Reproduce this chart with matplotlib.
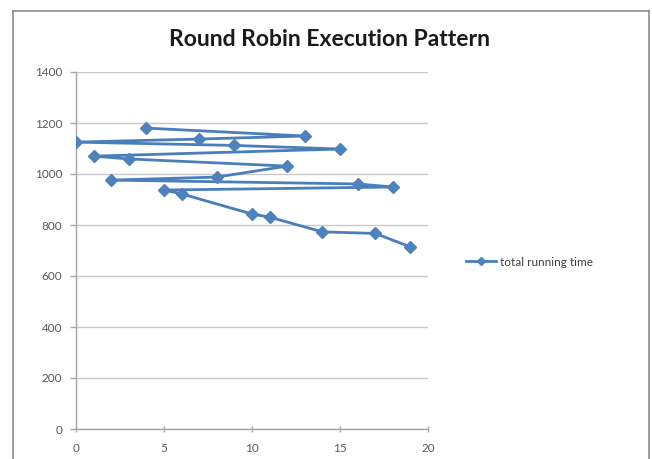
import matplotlib
matplotlib.use("Agg")
import matplotlib.pyplot as plt
from matplotlib.lines import Line2D

plt.rcParams['font.family'] = ['Lato', 'DejaVu Sans']

# Process index (x) in the order the scheduler visited them, with total running time (y)
process_ids = [4, 13, 7, 0, 9, 15, 1, 3, 12, 8, 2, 16, 18, 5, 6, 10, 11, 14, 17, 19]
running_time = [1180, 1149, 1137, 1125, 1112, 1098, 1070, 1059, 1031, 988,
                976, 961, 949, 937, 922, 843, 831, 773, 767, 714]
series_label = "total running time"
title = "Round Robin Execution Pattern"
x_ticks = [0, 5, 10, 15, 20]
y_ticks = [0, 200, 400, 600, 800, 1000, 1200, 1400]

W, H = 652, 459
fig = plt.figure(figsize=(W / 100, H / 100), dpi=100)
fig.patch.set_facecolor("white")

# chart-area frame
frame_col = "#8c8c8c"
for xs, ys in [((13, 13), (0, 448)), ((13, 649), (448, 448)), ((649, 649), (0, 448))]:
    fig.add_artist(Line2D([x / W for x in xs], [y / H for y in ys],
                          color=frame_col, lw=1.2, transform=fig.transFigure))

ax = fig.add_axes([76 / W, 1 - 429 / H, (428 - 76) / W, (429 - 72) / H])
line_col = "#4a7ebb"
ax.plot(process_ids, running_time, color=line_col, lw=2.0, marker="D",
        markersize=6.5, markerfacecolor="#4f81bd", markeredgecolor="#4f81bd",
        label=series_label, zorder=3)

ax.set_xlim(0, 20)
ax.set_ylim(0, 1400)
ax.set_xticks(x_ticks)
ax.set_yticks(y_ticks)
ax.yaxis.grid(True, color="#c8c8c8", lw=1.0)
ax.set_axisbelow(True)
for side in ("top", "right"):
    ax.spines[side].set_visible(False)
for side in ("left", "bottom"):
    ax.spines[side].set_color("#a6a6a6")
    ax.spines[side].set_linewidth(1.0)
ax.tick_params(axis="both", colors="#a6a6a6", length=4, width=1,
               labelcolor="#595959", labelsize=8.5)
ax.tick_params(axis="y", pad=6)
ax.tick_params(axis="x", direction="inout", pad=8)

fig.text(0.505, 1 - 40 / H, title, ha="center", va="center",
         fontsize=16.5, fontweight="bold", color="#1a1a1a")

handles, labels = ax.get_legend_handles_labels()
fig.legend(handles, labels, loc="center left",
           bbox_to_anchor=(455 / W, 1 - 262 / H), frameon=False,
           fontsize=8.5, handlelength=2.6, handletextpad=0.3,
           labelcolor="#404040", markerscale=0.6)

fig.savefig("out.png", dpi=100, facecolor="white")
